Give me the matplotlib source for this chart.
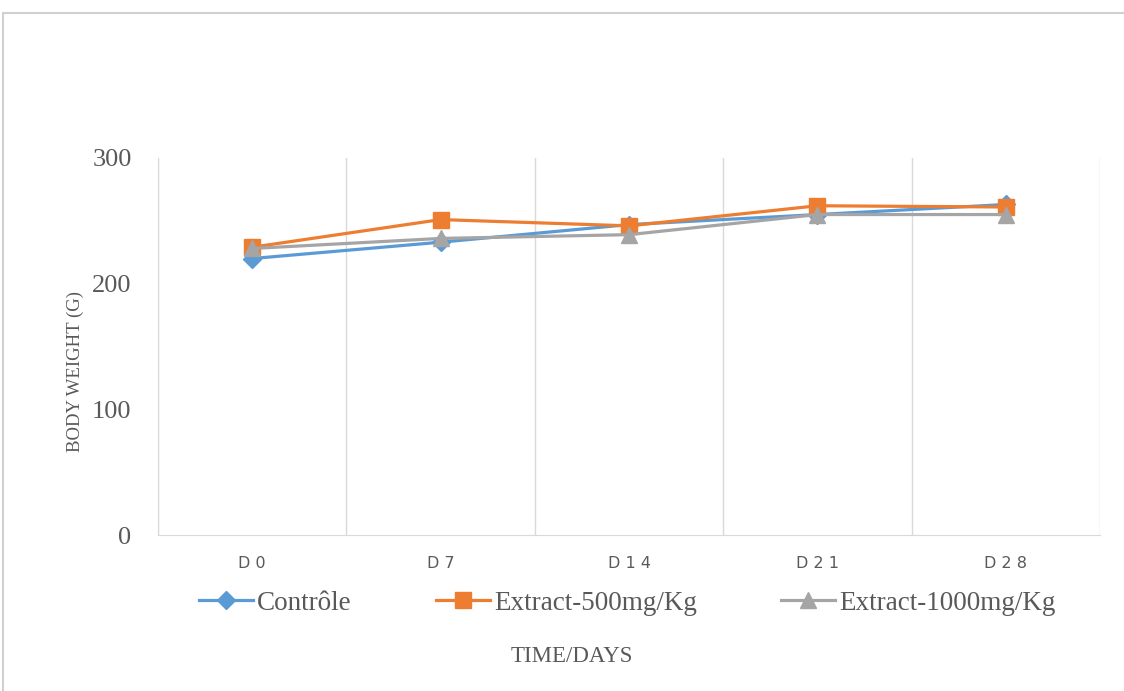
import matplotlib
matplotlib.use("Agg")
import matplotlib.pyplot as plt
from matplotlib.patches import Rectangle

# Data
days = ["D 0", "D 7", "D 1 4", "D 2 1", "D 2 8"]
control = [220, 233, 247, 255, 263]
extract_500 = [229, 251, 246, 262, 261]
extract_1000 = [228, 236, 239, 255, 255]
y_ticks = [0, 100, 200, 300]

BLUE = "#5B9BD5"
ORANGE = "#ED7D31"
GRAY = "#A5A5A5"
TEXT = "#595959"
GRID = "#D9D9D9"

plt.rcParams["font.family"] = ["Liberation Serif", "DejaVu Serif"]

fig = plt.figure(figsize=(11.24, 6.91), dpi=100)
fig.patch.set_facecolor("white")

# outer frame of the chart area
fig.patches.append(Rectangle((3 / 1124, -0.01), 1.1, (691 - 13) / 691 + 0.01,
                             transform=fig.transFigure, fill=False,
                             edgecolor="#D0D0D0", linewidth=1.5))

ax = fig.add_axes([158 / 1124, (691 - 535) / 691, (1100 - 158) / 1124, (535 - 158) / 691])

x = list(range(len(days)))
ax.plot(x, control, color=BLUE, lw=2.3, marker="D", ms=9, label="Contrôle", zorder=3)
ax.plot(x, extract_500, color=ORANGE, lw=2.3, marker="s", ms=12, label="Extract-500mg/Kg", zorder=4)
ax.plot(x, extract_1000, color=GRAY, lw=2.3, marker="^", ms=12, label="Extract-1000mg/Kg", zorder=5)

ax.set_xlim(-0.5, len(days) - 0.5)
ax.set_ylim(0, 300)
ax.set_yticks(y_ticks)
ax.set_yticklabels([str(v) for v in y_ticks], fontsize=19, color=TEXT)
ax.set_xticks(x)
ax.set_xticklabels(days, fontsize=11.5, color=TEXT, family=["DejaVu Sans"])
ax.tick_params(axis="both", length=0)
ax.tick_params(axis="y", pad=19)
ax.tick_params(axis="x", pad=15)

# vertical separators between categories
for b in [i - 0.5 for i in range(len(days) + 1)]:
    ax.axvline(b, color=GRID, lw=1.0, zorder=0)

for side in ["top", "right"]:
    ax.spines[side].set_visible(False)
ax.spines["left"].set_color(GRID)
ax.spines["bottom"].set_color(GRID)

fig.text(75 / 1124, (691 - 371) / 691, "BODY WEIGHT (G)", fontsize=13.5, color=TEXT,
         rotation=90, ha="center", va="center")
fig.text(572 / 1124, (691 - 657) / 691, "TIME/DAYS", fontsize=16.5, color=TEXT,
         ha="center", va="center")

leg = fig.legend(loc="center", bbox_to_anchor=(627 / 1124, (691 - 603) / 691), ncol=3,
                 frameon=False, fontsize=19.5, handlelength=2.0, handletextpad=0.15,
                 columnspacing=3.1, labelcolor=TEXT)

fig.savefig("out.png", dpi=100, facecolor="white")
